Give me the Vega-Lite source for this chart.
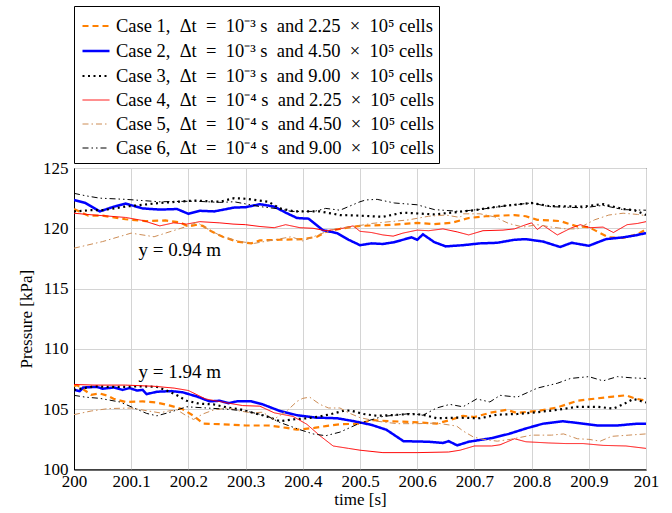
{
  "$schema": "https://vega.github.io/schema/vega-lite/v6.json",
  "width": 572,
  "height": 301.5,
  "autosize": {"type": "none"},
  "padding": {"left": 74, "top": 168, "right": 26, "bottom": 43.5},
  "background": "white",
  "config": {
    "font": "Liberation Serif",
    "view": {"stroke": "black", "strokeWidth": 1},
    "axis": {
      "labelFont": "Liberation Serif", "titleFont": "Liberation Serif",
      "labelFontSize": 17, "titleFontSize": 17, "labelColor": "black", "titleColor": "black",
      "titleFontWeight": "normal", "grid": true, "gridColor": "#d4d4d4", "gridWidth": 1,
      "domainColor": "black", "ticks": false
    },
    "legend": {
      "labelFont": "Liberation Serif", "labelFontSize": 18.5, "labelColor": "black", "labelLimit": 500
    }
  },
  "layer": [
    {
      "data": {"values": [
        {"c":1,"h":0,"t":200,"p":121.6},{"c":1,"h":0,"t":200.025,"p":121.05},{"c":1,"h":0,"t":200.05,"p":121.05},{"c":1,"h":0,"t":200.09,"p":120.75},{"c":1,"h":0,"t":200.125,"p":120.6},{"c":1,"h":0,"t":200.16,"p":120.65},{"c":1,"h":0,"t":200.185,"p":120.5},{"c":1,"h":0,"t":200.2,"p":120.15},{"c":1,"h":0,"t":200.215,"p":120.3},{"c":1,"h":0,"t":200.225,"p":120.2},{"c":1,"h":0,"t":200.24,"p":119.75},{"c":1,"h":0,"t":200.26,"p":119.3},{"c":1,"h":0,"t":200.285,"p":118.9},{"c":1,"h":0,"t":200.31,"p":118.75},{"c":1,"h":0,"t":200.325,"p":119.0},{"c":1,"h":0,"t":200.36,"p":119.05},{"c":1,"h":0,"t":200.4,"p":119.1},{"c":1,"h":0,"t":200.425,"p":119.3},{"c":1,"h":0,"t":200.44,"p":119.7},{"c":1,"h":0,"t":200.47,"p":120.0},{"c":1,"h":0,"t":200.5,"p":120.2},{"c":1,"h":0,"t":200.56,"p":120.3},{"c":1,"h":0,"t":200.6,"p":120.45},{"c":1,"h":0,"t":200.63,"p":120.35},{"c":1,"h":0,"t":200.66,"p":120.45},{"c":1,"h":0,"t":200.69,"p":120.85},{"c":1,"h":0,"t":200.72,"p":121.0},{"c":1,"h":0,"t":200.77,"p":121.1},{"c":1,"h":0,"t":200.79,"p":121.0},{"c":1,"h":0,"t":200.81,"p":120.7},{"c":1,"h":0,"t":200.85,"p":120.6},{"c":1,"h":0,"t":200.88,"p":120.15},{"c":1,"h":0,"t":200.9,"p":120.1},{"c":1,"h":0,"t":200.92,"p":119.6},{"c":1,"h":0,"t":200.935,"p":119.25},{"c":1,"h":0,"t":200.96,"p":119.2},{"c":1,"h":0,"t":200.985,"p":119.5},{"c":1,"h":0,"t":201,"p":119.9},

        {"c":2,"h":0,"t":200,"p":122.35},{"c":2,"h":0,"t":200.02,"p":122.1},{"c":2,"h":0,"t":200.045,"p":121.4},{"c":2,"h":0,"t":200.07,"p":121.8},{"c":2,"h":0,"t":200.09,"p":122.05},{"c":2,"h":0,"t":200.12,"p":121.65},{"c":2,"h":0,"t":200.15,"p":121.55},{"c":2,"h":0,"t":200.18,"p":121.6},{"c":2,"h":0,"t":200.2,"p":121.2},{"c":2,"h":0,"t":200.22,"p":121.45},{"c":2,"h":0,"t":200.245,"p":121.4},{"c":2,"h":0,"t":200.28,"p":121.72},{"c":2,"h":0,"t":200.3,"p":121.75},{"c":2,"h":0,"t":200.325,"p":122.0},{"c":2,"h":0,"t":200.35,"p":121.8},{"c":2,"h":0,"t":200.37,"p":121.3},{"c":2,"h":0,"t":200.39,"p":120.85},{"c":2,"h":0,"t":200.41,"p":120.8},{"c":2,"h":0,"t":200.435,"p":119.85},{"c":2,"h":0,"t":200.46,"p":119.6},{"c":2,"h":0,"t":200.48,"p":119.05},{"c":2,"h":0,"t":200.5,"p":118.6},{"c":2,"h":0,"t":200.52,"p":118.75},{"c":2,"h":0,"t":200.54,"p":118.7},{"c":2,"h":0,"t":200.56,"p":118.85},{"c":2,"h":0,"t":200.59,"p":119.25},{"c":2,"h":0,"t":200.6,"p":119.05},{"c":2,"h":0,"t":200.61,"p":119.5},{"c":2,"h":0,"t":200.63,"p":118.85},{"c":2,"h":0,"t":200.65,"p":118.5},{"c":2,"h":0,"t":200.68,"p":118.6},{"c":2,"h":0,"t":200.71,"p":118.75},{"c":2,"h":0,"t":200.74,"p":118.8},{"c":2,"h":0,"t":200.77,"p":119.05},{"c":2,"h":0,"t":200.79,"p":119.1},{"c":2,"h":0,"t":200.82,"p":118.9},{"c":2,"h":0,"t":200.85,"p":118.45},{"c":2,"h":0,"t":200.87,"p":118.8},{"c":2,"h":0,"t":200.9,"p":118.55},{"c":2,"h":0,"t":200.93,"p":119.1},{"c":2,"h":0,"t":200.96,"p":119.25},{"c":2,"h":0,"t":200.98,"p":119.4},{"c":2,"h":0,"t":201,"p":119.6},

        {"c":3,"h":0,"t":200,"p":121.4},{"c":3,"h":0,"t":200.03,"p":121.5},{"c":3,"h":0,"t":200.05,"p":121.5},{"c":3,"h":0,"t":200.09,"p":121.8},{"c":3,"h":0,"t":200.15,"p":122.1},{"c":3,"h":0,"t":200.21,"p":122.3},{"c":3,"h":0,"t":200.255,"p":122.2},{"c":3,"h":0,"t":200.28,"p":122.5},{"c":3,"h":0,"t":200.3,"p":122.45},{"c":3,"h":0,"t":200.34,"p":122.2},{"c":3,"h":0,"t":200.36,"p":121.65},{"c":3,"h":0,"t":200.385,"p":121.4},{"c":3,"h":0,"t":200.43,"p":121.4},{"c":3,"h":0,"t":200.465,"p":121.1},{"c":3,"h":0,"t":200.5,"p":121.05},{"c":3,"h":0,"t":200.54,"p":120.95},{"c":3,"h":0,"t":200.575,"p":121.3},{"c":3,"h":0,"t":200.63,"p":121.15},{"c":3,"h":0,"t":200.66,"p":121.3},{"c":3,"h":0,"t":200.7,"p":121.5},{"c":3,"h":0,"t":200.74,"p":121.8},{"c":3,"h":0,"t":200.8,"p":122.1},{"c":3,"h":0,"t":200.83,"p":121.85},{"c":3,"h":0,"t":200.89,"p":121.8},{"c":3,"h":0,"t":200.925,"p":122.0},{"c":3,"h":0,"t":200.96,"p":121.6},{"c":3,"h":0,"t":200.98,"p":121.5},{"c":3,"h":0,"t":201,"p":121.1},

        {"c":4,"h":0,"t":200,"p":121.25},{"c":4,"h":0,"t":200.035,"p":121.1},{"c":4,"h":0,"t":200.063,"p":121.0},{"c":4,"h":0,"t":200.09,"p":120.9},{"c":4,"h":0,"t":200.12,"p":120.65},{"c":4,"h":0,"t":200.15,"p":120.2},{"c":4,"h":0,"t":200.174,"p":120.45},{"c":4,"h":0,"t":200.197,"p":120.35},{"c":4,"h":0,"t":200.22,"p":120.55},{"c":4,"h":0,"t":200.255,"p":120.45},{"c":4,"h":0,"t":200.278,"p":120.35},{"c":4,"h":0,"t":200.3,"p":120.3},{"c":4,"h":0,"t":200.325,"p":120.15},{"c":4,"h":0,"t":200.35,"p":120.05},{"c":4,"h":0,"t":200.37,"p":120.3},{"c":4,"h":0,"t":200.395,"p":120.05},{"c":4,"h":0,"t":200.418,"p":120.0},{"c":4,"h":0,"t":200.44,"p":119.8},{"c":4,"h":0,"t":200.465,"p":119.95},{"c":4,"h":0,"t":200.488,"p":120.2},{"c":4,"h":0,"t":200.5,"p":119.75},{"c":4,"h":0,"t":200.52,"p":119.65},{"c":4,"h":0,"t":200.54,"p":119.45},{"c":4,"h":0,"t":200.558,"p":119.35},{"c":4,"h":0,"t":200.575,"p":119.6},{"c":4,"h":0,"t":200.6,"p":119.85},{"c":4,"h":0,"t":200.62,"p":119.8},{"c":4,"h":0,"t":200.645,"p":119.95},{"c":4,"h":0,"t":200.67,"p":119.7},{"c":4,"h":0,"t":200.69,"p":119.45},{"c":4,"h":0,"t":200.715,"p":119.8},{"c":4,"h":0,"t":200.75,"p":119.85},{"c":4,"h":0,"t":200.77,"p":119.95},{"c":4,"h":0,"t":200.79,"p":120.3},{"c":4,"h":0,"t":200.8,"p":120.45},{"c":4,"h":0,"t":200.81,"p":119.9},{"c":4,"h":0,"t":200.82,"p":120.25},{"c":4,"h":0,"t":200.845,"p":119.45},{"c":4,"h":0,"t":200.868,"p":120.0},{"c":4,"h":0,"t":200.885,"p":120.3},{"c":4,"h":0,"t":200.902,"p":120.05},{"c":4,"h":0,"t":200.925,"p":120.1},{"c":4,"h":0,"t":200.943,"p":119.65},{"c":4,"h":0,"t":200.967,"p":120.3},{"c":4,"h":0,"t":200.985,"p":120.4},{"c":4,"h":0,"t":201,"p":120.55},

        {"c":5,"h":0,"t":200,"p":118.35},{"c":5,"h":0,"t":200.05,"p":118.9},{"c":5,"h":0,"t":200.1,"p":119.6},{"c":5,"h":0,"t":200.14,"p":119.3},{"c":5,"h":0,"t":200.17,"p":119.75},{"c":5,"h":0,"t":200.2,"p":120.2},{"c":5,"h":0,"t":200.215,"p":120.5},{"c":5,"h":0,"t":200.235,"p":119.9},{"c":5,"h":0,"t":200.26,"p":119.3},{"c":5,"h":0,"t":200.29,"p":118.9},{"c":5,"h":0,"t":200.315,"p":118.75},{"c":5,"h":0,"t":200.345,"p":119.0},{"c":5,"h":0,"t":200.38,"p":119.3},{"c":5,"h":0,"t":200.4,"p":118.95},{"c":5,"h":0,"t":200.44,"p":119.7},{"c":5,"h":0,"t":200.46,"p":120.0},{"c":5,"h":0,"t":200.49,"p":120.15},{"c":5,"h":0,"t":200.52,"p":120.4},{"c":5,"h":0,"t":200.585,"p":120.7},{"c":5,"h":0,"t":200.62,"p":121.0},{"c":5,"h":0,"t":200.65,"p":121.1},{"c":5,"h":0,"t":200.675,"p":120.9},{"c":5,"h":0,"t":200.68,"p":121.2},{"c":5,"h":0,"t":200.71,"p":121.2},{"c":5,"h":0,"t":200.735,"p":120.95},{"c":5,"h":0,"t":200.76,"p":120.4},{"c":5,"h":0,"t":200.785,"p":120.1},{"c":5,"h":0,"t":200.81,"p":120.3},{"c":5,"h":0,"t":200.835,"p":120.1},{"c":5,"h":0,"t":200.86,"p":119.95},{"c":5,"h":0,"t":200.88,"p":119.95},{"c":5,"h":0,"t":200.91,"p":120.7},{"c":5,"h":0,"t":200.935,"p":121.1},{"c":5,"h":0,"t":200.96,"p":121.25},{"c":5,"h":0,"t":200.985,"p":121.15},{"c":5,"h":0,"t":201,"p":121.05},

        {"c":6,"h":0,"t":200,"p":122.9},{"c":6,"h":0,"t":200.02,"p":122.7},{"c":6,"h":0,"t":200.045,"p":122.5},{"c":6,"h":0,"t":200.09,"p":122.4},{"c":6,"h":0,"t":200.15,"p":122.2},{"c":6,"h":0,"t":200.21,"p":122.25},{"c":6,"h":0,"t":200.255,"p":122.15},{"c":6,"h":0,"t":200.28,"p":122.2},{"c":6,"h":0,"t":200.325,"p":121.8},{"c":6,"h":0,"t":200.36,"p":121.6},{"c":6,"h":0,"t":200.38,"p":121.4},{"c":6,"h":0,"t":200.42,"p":121.4},{"c":6,"h":0,"t":200.44,"p":121.65},{"c":6,"h":0,"t":200.465,"p":121.5},{"c":6,"h":0,"t":200.5,"p":122.2},{"c":6,"h":0,"t":200.51,"p":122.35},{"c":6,"h":0,"t":200.53,"p":122.4},{"c":6,"h":0,"t":200.56,"p":122.1},{"c":6,"h":0,"t":200.6,"p":121.95},{"c":6,"h":0,"t":200.63,"p":121.55},{"c":6,"h":0,"t":200.675,"p":121.4},{"c":6,"h":0,"t":200.715,"p":121.6},{"c":6,"h":0,"t":200.76,"p":121.9},{"c":6,"h":0,"t":200.8,"p":122.1},{"c":6,"h":0,"t":200.83,"p":121.8},{"c":6,"h":0,"t":200.89,"p":121.7},{"c":6,"h":0,"t":200.925,"p":121.9},{"c":6,"h":0,"t":200.96,"p":121.55},{"c":6,"h":0,"t":201,"p":121.5},

        {"c":1,"h":1,"t":200,"p":106.9},{"c":1,"h":1,"t":200.005,"p":107.0},{"c":1,"h":1,"t":200.013,"p":106.75},{"c":1,"h":1,"t":200.03,"p":106.2},{"c":1,"h":1,"t":200.045,"p":106.3},{"c":1,"h":1,"t":200.06,"p":106.1},{"c":1,"h":1,"t":200.069,"p":105.87},{"c":1,"h":1,"t":200.09,"p":105.6},{"c":1,"h":1,"t":200.12,"p":105.65},{"c":1,"h":1,"t":200.145,"p":105.55},{"c":1,"h":1,"t":200.168,"p":105.3},{"c":1,"h":1,"t":200.19,"p":105.0},{"c":1,"h":1,"t":200.209,"p":104.45},{"c":1,"h":1,"t":200.226,"p":103.8},{"c":1,"h":1,"t":200.26,"p":103.75},{"c":1,"h":1,"t":200.3,"p":103.65},{"c":1,"h":1,"t":200.34,"p":103.65},{"c":1,"h":1,"t":200.372,"p":103.45},{"c":1,"h":1,"t":200.39,"p":103.3},{"c":1,"h":1,"t":200.42,"p":103.45},{"c":1,"h":1,"t":200.44,"p":103.6},{"c":1,"h":1,"t":200.465,"p":103.75},{"c":1,"h":1,"t":200.5,"p":103.8},{"c":1,"h":1,"t":200.52,"p":104.1},{"c":1,"h":1,"t":200.553,"p":104.0},{"c":1,"h":1,"t":200.587,"p":103.95},{"c":1,"h":1,"t":200.634,"p":103.8},{"c":1,"h":1,"t":200.657,"p":104.1},{"c":1,"h":1,"t":200.68,"p":104.45},{"c":1,"h":1,"t":200.7,"p":104.35},{"c":1,"h":1,"t":200.727,"p":104.7},{"c":1,"h":1,"t":200.756,"p":104.95},{"c":1,"h":1,"t":200.774,"p":104.7},{"c":1,"h":1,"t":200.81,"p":104.85},{"c":1,"h":1,"t":200.845,"p":105.15},{"c":1,"h":1,"t":200.88,"p":105.7},{"c":1,"h":1,"t":200.915,"p":105.9},{"c":1,"h":1,"t":200.943,"p":106.05},{"c":1,"h":1,"t":200.965,"p":106.15},{"c":1,"h":1,"t":200.98,"p":105.9},{"c":1,"h":1,"t":201,"p":105.7},

        {"c":2,"h":1,"t":200,"p":106.6},{"c":2,"h":1,"t":200.01,"p":106.5},{"c":2,"h":1,"t":200.016,"p":106.8},{"c":2,"h":1,"t":200.04,"p":106.85},{"c":2,"h":1,"t":200.05,"p":106.7},{"c":2,"h":1,"t":200.07,"p":106.8},{"c":2,"h":1,"t":200.085,"p":106.6},{"c":2,"h":1,"t":200.097,"p":106.75},{"c":2,"h":1,"t":200.11,"p":106.55},{"c":2,"h":1,"t":200.12,"p":106.6},{"c":2,"h":1,"t":200.127,"p":106.25},{"c":2,"h":1,"t":200.145,"p":106.45},{"c":2,"h":1,"t":200.17,"p":106.5},{"c":2,"h":1,"t":200.19,"p":106.4},{"c":2,"h":1,"t":200.215,"p":106.05},{"c":2,"h":1,"t":200.237,"p":105.65},{"c":2,"h":1,"t":200.255,"p":105.7},{"c":2,"h":1,"t":200.27,"p":105.5},{"c":2,"h":1,"t":200.285,"p":105.65},{"c":2,"h":1,"t":200.31,"p":105.65},{"c":2,"h":1,"t":200.33,"p":105.4},{"c":2,"h":1,"t":200.36,"p":104.85},{"c":2,"h":1,"t":200.39,"p":104.5},{"c":2,"h":1,"t":200.424,"p":104.3},{"c":2,"h":1,"t":200.46,"p":104.25},{"c":2,"h":1,"t":200.49,"p":104.0},{"c":2,"h":1,"t":200.52,"p":103.7},{"c":2,"h":1,"t":200.546,"p":103.3},{"c":2,"h":1,"t":200.576,"p":102.35},{"c":2,"h":1,"t":200.62,"p":102.3},{"c":2,"h":1,"t":200.645,"p":102.2},{"c":2,"h":1,"t":200.655,"p":102.35},{"c":2,"h":1,"t":200.67,"p":102.0},{"c":2,"h":1,"t":200.69,"p":102.3},{"c":2,"h":1,"t":200.73,"p":102.6},{"c":2,"h":1,"t":200.76,"p":102.95},{"c":2,"h":1,"t":200.79,"p":103.4},{"c":2,"h":1,"t":200.82,"p":103.8},{"c":2,"h":1,"t":200.855,"p":104.0},{"c":2,"h":1,"t":200.89,"p":103.8},{"c":2,"h":1,"t":200.915,"p":103.65},{"c":2,"h":1,"t":200.95,"p":103.65},{"c":2,"h":1,"t":200.985,"p":103.8},{"c":2,"h":1,"t":201,"p":103.8},

        {"c":3,"h":1,"t":200,"p":106.6},{"c":3,"h":1,"t":200.035,"p":106.9},{"c":3,"h":1,"t":200.06,"p":106.85},{"c":3,"h":1,"t":200.09,"p":106.85},{"c":3,"h":1,"t":200.115,"p":106.9},{"c":3,"h":1,"t":200.145,"p":106.85},{"c":3,"h":1,"t":200.162,"p":106.55},{"c":3,"h":1,"t":200.18,"p":106.15},{"c":3,"h":1,"t":200.197,"p":105.7},{"c":3,"h":1,"t":200.22,"p":105.45},{"c":3,"h":1,"t":200.244,"p":105.4},{"c":3,"h":1,"t":200.267,"p":105.15},{"c":3,"h":1,"t":200.29,"p":105.0},{"c":3,"h":1,"t":200.313,"p":104.7},{"c":3,"h":1,"t":200.337,"p":104.4},{"c":3,"h":1,"t":200.36,"p":104.0},{"c":3,"h":1,"t":200.383,"p":104.15},{"c":3,"h":1,"t":200.407,"p":104.25},{"c":3,"h":1,"t":200.43,"p":104.4},{"c":3,"h":1,"t":200.45,"p":104.6},{"c":3,"h":1,"t":200.47,"p":104.85},{"c":3,"h":1,"t":200.483,"p":104.9},{"c":3,"h":1,"t":200.506,"p":104.6},{"c":3,"h":1,"t":200.53,"p":104.45},{"c":3,"h":1,"t":200.553,"p":104.5},{"c":3,"h":1,"t":200.587,"p":104.6},{"c":3,"h":1,"t":200.61,"p":104.55},{"c":3,"h":1,"t":200.634,"p":104.25},{"c":3,"h":1,"t":200.67,"p":104.3},{"c":3,"h":1,"t":200.71,"p":104.25},{"c":3,"h":1,"t":200.74,"p":104.55},{"c":3,"h":1,"t":200.775,"p":104.6},{"c":3,"h":1,"t":200.81,"p":104.75},{"c":3,"h":1,"t":200.845,"p":104.95},{"c":3,"h":1,"t":200.88,"p":105.2},{"c":3,"h":1,"t":200.915,"p":105.2},{"c":3,"h":1,"t":200.943,"p":105.05},{"c":3,"h":1,"t":200.96,"p":105.4},{"c":3,"h":1,"t":200.978,"p":105.85},{"c":3,"h":1,"t":201,"p":105.55},

        {"c":4,"h":1,"t":200,"p":107.05},{"c":4,"h":1,"t":200.035,"p":107.0},{"c":4,"h":1,"t":200.09,"p":107.0},{"c":4,"h":1,"t":200.14,"p":106.9},{"c":4,"h":1,"t":200.175,"p":106.75},{"c":4,"h":1,"t":200.2,"p":106.55},{"c":4,"h":1,"t":200.23,"p":105.85},{"c":4,"h":1,"t":200.27,"p":105.5},{"c":4,"h":1,"t":200.295,"p":105.3},{"c":4,"h":1,"t":200.325,"p":105.25},{"c":4,"h":1,"t":200.35,"p":104.7},{"c":4,"h":1,"t":200.383,"p":104.4},{"c":4,"h":1,"t":200.407,"p":103.75},{"c":4,"h":1,"t":200.43,"p":102.8},{"c":4,"h":1,"t":200.453,"p":101.95},{"c":4,"h":1,"t":200.48,"p":101.75},{"c":4,"h":1,"t":200.5,"p":101.6},{"c":4,"h":1,"t":200.54,"p":101.4},{"c":4,"h":1,"t":200.6,"p":101.4},{"c":4,"h":1,"t":200.655,"p":101.45},{"c":4,"h":1,"t":200.675,"p":101.6},{"c":4,"h":1,"t":200.7,"p":101.95},{"c":4,"h":1,"t":200.73,"p":101.95},{"c":4,"h":1,"t":200.745,"p":102.05},{"c":4,"h":1,"t":200.77,"p":102.55},{"c":4,"h":1,"t":200.79,"p":102.3},{"c":4,"h":1,"t":200.83,"p":102.2},{"c":4,"h":1,"t":200.86,"p":102.15},{"c":4,"h":1,"t":200.89,"p":102.15},{"c":4,"h":1,"t":200.925,"p":102.0},{"c":4,"h":1,"t":200.965,"p":101.95},{"c":4,"h":1,"t":201,"p":101.75},

        {"c":5,"h":1,"t":200,"p":104.55},{"c":5,"h":1,"t":200.03,"p":104.85},{"c":5,"h":1,"t":200.06,"p":105.05},{"c":5,"h":1,"t":200.1,"p":105.1},{"c":5,"h":1,"t":200.13,"p":104.85},{"c":5,"h":1,"t":200.15,"p":104.7},{"c":5,"h":1,"t":200.165,"p":104.85},{"c":5,"h":1,"t":200.18,"p":104.95},{"c":5,"h":1,"t":200.195,"p":104.5},{"c":5,"h":1,"t":200.209,"p":104.15},{"c":5,"h":1,"t":200.225,"p":104.6},{"c":5,"h":1,"t":200.245,"p":104.95},{"c":5,"h":1,"t":200.27,"p":105.1},{"c":5,"h":1,"t":200.29,"p":104.85},{"c":5,"h":1,"t":200.31,"p":104.7},{"c":5,"h":1,"t":200.33,"p":104.75},{"c":5,"h":1,"t":200.349,"p":104.15},{"c":5,"h":1,"t":200.372,"p":104.85},{"c":5,"h":1,"t":200.39,"p":105.65},{"c":5,"h":1,"t":200.4,"p":105.9},{"c":5,"h":1,"t":200.412,"p":106.0},{"c":5,"h":1,"t":200.43,"p":105.4},{"c":5,"h":1,"t":200.445,"p":105.1},{"c":5,"h":1,"t":200.465,"p":105.1},{"c":5,"h":1,"t":200.48,"p":104.7},{"c":5,"h":1,"t":200.5,"p":104.3},{"c":5,"h":1,"t":200.53,"p":104.0},{"c":5,"h":1,"t":200.565,"p":103.8},{"c":5,"h":1,"t":200.6,"p":103.8},{"c":5,"h":1,"t":200.634,"p":103.85},{"c":5,"h":1,"t":200.669,"p":103.6},{"c":5,"h":1,"t":200.68,"p":103.2},{"c":5,"h":1,"t":200.698,"p":102.7},{"c":5,"h":1,"t":200.715,"p":102.5},{"c":5,"h":1,"t":200.74,"p":102.35},{"c":5,"h":1,"t":200.763,"p":102.5},{"c":5,"h":1,"t":200.8,"p":102.85},{"c":5,"h":1,"t":200.835,"p":102.85},{"c":5,"h":1,"t":200.856,"p":102.95},{"c":5,"h":1,"t":200.88,"p":102.55},{"c":5,"h":1,"t":200.9,"p":102.5},{"c":5,"h":1,"t":200.92,"p":102.35},{"c":5,"h":1,"t":200.94,"p":102.75},{"c":5,"h":1,"t":200.97,"p":102.85},{"c":5,"h":1,"t":201,"p":102.95},

        {"c":6,"h":1,"t":200,"p":106.15},{"c":6,"h":1,"t":200.02,"p":106.0},{"c":6,"h":1,"t":200.045,"p":105.9},{"c":6,"h":1,"t":200.08,"p":105.6},{"c":6,"h":1,"t":200.1,"p":105.2},{"c":6,"h":1,"t":200.127,"p":104.65},{"c":6,"h":1,"t":200.145,"p":104.45},{"c":6,"h":1,"t":200.168,"p":104.75},{"c":6,"h":1,"t":200.197,"p":105.2},{"c":6,"h":1,"t":200.232,"p":105.1},{"c":6,"h":1,"t":200.267,"p":105.0},{"c":6,"h":1,"t":200.3,"p":104.85},{"c":6,"h":1,"t":200.337,"p":104.45},{"c":6,"h":1,"t":200.36,"p":103.9},{"c":6,"h":1,"t":200.395,"p":103.3},{"c":6,"h":1,"t":200.418,"p":102.95},{"c":6,"h":1,"t":200.44,"p":102.8},{"c":6,"h":1,"t":200.465,"p":103.1},{"c":6,"h":1,"t":200.5,"p":103.85},{"c":6,"h":1,"t":200.54,"p":104.4},{"c":6,"h":1,"t":200.59,"p":104.65},{"c":6,"h":1,"t":200.61,"p":104.5},{"c":6,"h":1,"t":200.634,"p":105.1},{"c":6,"h":1,"t":200.657,"p":105.4},{"c":6,"h":1,"t":200.68,"p":105.2},{"c":6,"h":1,"t":200.704,"p":105.85},{"c":6,"h":1,"t":200.727,"p":105.6},{"c":6,"h":1,"t":200.745,"p":106.15},{"c":6,"h":1,"t":200.775,"p":106.0},{"c":6,"h":1,"t":200.81,"p":106.75},{"c":6,"h":1,"t":200.845,"p":107.15},{"c":6,"h":1,"t":200.868,"p":107.55},{"c":6,"h":1,"t":200.9,"p":107.7},{"c":6,"h":1,"t":200.925,"p":107.35},{"c":6,"h":1,"t":200.95,"p":107.7},{"c":6,"h":1,"t":200.975,"p":107.6},{"c":6,"h":1,"t":201,"p":107.55}
      ]},
      "mark": {"type": "line", "clip": true},
      "encoding": {
        "x": {"field": "t", "type": "quantitative", "scale": {"domain": [200, 201], "nice": false, "zero": false},
              "axis": {"title": "time [s]", "titleFont": "Liberation Serif", "labelFont": "Liberation Serif", "values": [200,200.1,200.2,200.3,200.4,200.5,200.6,200.7,200.8,200.9,201], "format": "~g", "labelPadding": 4, "titlePadding": 2, "labelFlush": false}},
        "y": {"field": "p", "type": "quantitative", "scale": {"domain": [100, 125], "nice": false, "zero": false},
              "axis": {"title": "Pressure [kPa]", "titleFont": "Liberation Serif", "labelFont": "Liberation Serif", "values": [100,105,110,115,120,125], "labelPadding": 6, "titlePadding": 7}},
        "detail": {"field": "h", "type": "nominal"},
        "color": {"field": "c", "type": "nominal",
                  "scale": {"domain": [1,2,3,4,5,6], "range": ["#ff8000","#0000ff","#000000","#ff0000","#cc8c55","#000000"]},
                  "legend": {"title": null, "orient": "none", "legendX": 0, "legendY": -162,
                             "labelFont": "Liberation Serif", "labelFontSize": 18.5,
                             "labelExpr": "['','Case 1, \u00a0Δt \u00a0= \u00a010⁻³ s \u00a0and 2.25 \u00a0× \u00a010⁵ cells','Case 2, \u00a0Δt \u00a0= \u00a010⁻³ s \u00a0and 4.50 \u00a0× \u00a010⁵ cells','Case 3, \u00a0Δt \u00a0= \u00a010⁻³ s \u00a0and 9.00 \u00a0× \u00a010⁵ cells','Case 4, \u00a0Δt \u00a0= \u00a010⁻⁴ s \u00a0and 2.25 \u00a0× \u00a010⁵ cells','Case 5, \u00a0Δt \u00a0= \u00a010⁻⁴ s \u00a0and 4.50 \u00a0× \u00a010⁵ cells','Case 6, \u00a0Δt \u00a0= \u00a010⁻⁴ s \u00a0and 9.00 \u00a0× \u00a010⁵ cells'][datum.value]",
                             "symbolType": "stroke", "symbolSize": 729, "padding": 5, "rowPadding": -1.4, "labelOffset": 5, "symbolOffset": 2,
                             "strokeColor": "black", "fillColor": "white"}},
        "strokeDash": {"field": "c", "type": "nominal",
                  "scale": {"domain": [1,2,3,4,5,6], "range": [[6,4],[1,0],[2,3.5],[1,0],[6,3,1.5,3],[6,3,1.5,3,1.5,3]]}},
        "strokeWidth": {"field": "c", "type": "nominal",
                  "scale": {"type": "ordinal", "domain": [1,2,3,4,5,6], "range": [2.2,2.5,2.2,1,1,1]}}
      }
    },
    {
      "data": {"values": [
        {"t": 200.185, "p": 118.2, "label": "y = 0.94 m"},
        {"t": 200.185, "p": 108.1, "label": "y = 1.94 m"}
      ]},
      "mark": {"type": "text", "font": "Liberation Serif", "fontSize": 19, "align": "center", "baseline": "middle", "color": "black"},
      "encoding": {
        "x": {"field": "t", "type": "quantitative"},
        "y": {"field": "p", "type": "quantitative"},
        "text": {"field": "label"}
      }
    }
  ]
}
